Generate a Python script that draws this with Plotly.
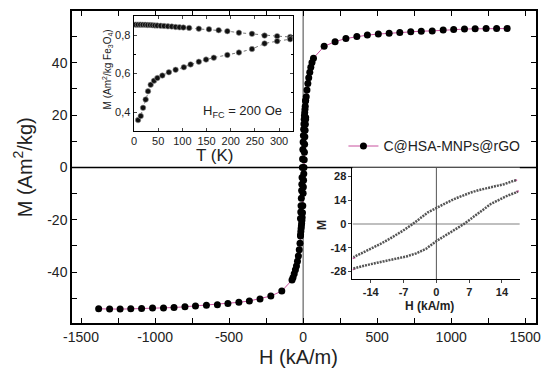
import plotly.graph_objects as go

# ---------------- main M(H) data ----------------
neg_H = [-1381, -1307, -1236, -1164, -1091, -1017, -943, -872, -798, -727, -653, -579, -508, -434, -363, -291, -218, -144]
neg_M = [-54.0, -54.1, -54.1, -54.0, -53.9, -53.7, -53.7, -53.5, -53.2, -52.9, -52.6, -52.4, -52.0, -51.5, -51.0, -50.2, -49.1, -47.2]
ext_neg_H = [-75, -68, -60, -52, -45, -38, -32, -26, -21]
ext_neg_M = [-43.0, -42.0, -40.6, -39.1, -37.6, -35.8, -33.8, -31.4, -29.0]
ext_pos_H = [21, 26, 32, 38, 45, 52, 60, 70]
ext_pos_M = [27.0, 29.5, 32.0, 34.2, 36.3, 38.2, 40.0, 41.7]
pos_H = [142, 216, 289, 363, 434, 508, 581, 653, 727, 798, 872, 946, 1017, 1090, 1162, 1236, 1307, 1378]
pos_M = [46.2, 48.0, 49.2, 50.0, 50.5, 50.9, 51.2, 51.5, 51.8, 52.0, 52.1, 52.4, 52.6, 52.8, 52.9, 53.0, 53.0, 53.0]

# ---------------- low-field loop (inset, kA/m) ----------------
up_H = [17.0, 16.5, 14.4, 12.5, 10.9, 9.0, 7.3, 5.5, 3.8, 2.0, 0.1, -1.8, -3.5, -5.0, -7.1, -8.5, -10.0, -12.0, -13.9, -15.8, -17.7]
up_M = [25.6, 25.3, 23.3, 22.2, 21.0, 19.8, 18.4, 16.6, 14.6, 12.2, 9.7, 6.8, 3.2, 0.0, -3.9, -6.4, -8.8, -11.8, -14.6, -17.0, -19.5]
lo_H = [-17.7, -17.1, -15.3, -13.5, -11.8, -10.0, -8.2, -6.4, -4.3, -2.2, 0.1, 1.6, 3.1, 4.5, 5.9, 7.4, 8.8, 10.2, 11.6, 13.4, 15.1, 16.9, 17.4]
lo_M = [-26.2, -25.7, -24.5, -23.3, -22.4, -21.4, -20.3, -19.1, -17.3, -14.6, -9.9, -7.5, -4.9, -2.4, 0.0, 2.9, 5.8, 8.8, 11.7, 14.2, 16.5, 18.4, 19.0]
pink_H = [-17.9, -17.2, None, -17.9, -17.2, None, 16.6, 17.8, None, 17.0, 17.8]
pink_M = [-20.3, -19.6, None, -27.0, -26.0, None, 25.4, 26.0, None, 18.8, 19.6]

# ---------------- ZFC / FC inset ----------------
fc_T = [3, 8, 13, 18, 23, 28, 33, 38, 43, 48, 55, 62, 70, 78, 86, 94, 102, 114, 134, 155, 175, 193, 217, 244, 270, 296, 323]
fc_M = [0.855, 0.855, 0.855, 0.854, 0.854, 0.853, 0.853, 0.852, 0.851, 0.850, 0.849, 0.848, 0.846, 0.845, 0.843, 0.841, 0.840,
        0.838, 0.834, 0.831, 0.826, 0.821, 0.813, 0.807, 0.798, 0.795, 0.791]
zfc_T = [8.3, 13.8, 18.6, 24, 28.9, 34.4, 41.3, 48.2, 58.5, 72, 86, 103, 117, 134, 149, 165, 193, 217, 244, 270, 296, 323]
zfc_M = [0.358, 0.379, 0.422, 0.465, 0.508, 0.542, 0.563, 0.577, 0.590, 0.607, 0.620, 0.633, 0.648, 0.662, 0.673, 0.683,
         0.697, 0.710, 0.728, 0.757, 0.769, 0.779]

main_x_ticks = [-1500, -1000, -500, 0, 500, 1000, 1500]
main_x_text = ["-1500", "-1000", "-500", "0", "500", "1000", "1500"]
main_y_ticks = [-40, -20, 0, 20, 40]
main_y_text = ["-40", "-20", "0", "20", "40"]
ins1_x_ticks = [0, 50, 100, 150, 200, 250, 300]
ins1_y_ticks = [0.4, 0.6, 0.8]
ins1_y_text = ["0,4", "0,6", "0,8"]
ins2_ticks_H = [-14, -7, 0, 7, 14]
ins2_text_H = ["-14", "-7", "0", "7", "14"]
ins2_ticks_M = [-28, -14, 0, 14, 28]
ins2_text_M = ["-28", "-14", "0", "14", "28"]

FONT = "Liberation Sans, Arial, sans-serif"
PINK = "#c8509e"

fig = go.Figure()

# main series (with legend)
main_H = neg_H + ext_neg_H + lo_H + ext_pos_H + pos_H
main_M = neg_M + ext_neg_M + lo_M + ext_pos_M + pos_M
fig.add_trace(go.Scatter(x=main_H, y=main_M, mode="lines+markers", name="C@HSA-MNPs@rGO",
                         line=dict(color=PINK, width=1),
                         marker=dict(color="black", size=7, line=dict(width=0)),
                         xaxis="x", yaxis="y"))
fig.add_trace(go.Scatter(x=up_H, y=up_M, mode="markers", showlegend=False,
                         marker=dict(color="black", size=7, line=dict(width=0)),
                         xaxis="x", yaxis="y"))

# inset 1 : ZFC / FC
for T, M in ((fc_T, fc_M), (zfc_T, zfc_M)):
    fig.add_trace(go.Scatter(x=T, y=M, mode="lines+markers", showlegend=False,
                             line=dict(color="#777", width=1, dash="dot"),
                             marker=dict(color="#111", size=5.5, line=dict(color="#999", width=0.6)),
                             xaxis="x2", yaxis="y2"))

# inset 2 : low field loop
fig.add_trace(go.Scatter(x=pink_H, y=pink_M, mode="lines", showlegend=False,
                         line=dict(color=PINK, width=1.5, dash="dot"), xaxis="x3", yaxis="y3"))
for H, M in ((up_H, up_M), (lo_H, lo_M)):
    fig.add_trace(go.Scatter(x=H, y=M, mode="lines", showlegend=False,
                             line=dict(color="#555", width=2.5, dash="2px,1px"),
                             xaxis="x3", yaxis="y3"))

tick_font = dict(family=FONT, size=14, color="#222")
fig.update_layout(
    width=550, height=378,
    margin=dict(l=72, r=11, t=9, b=55),
    paper_bgcolor="white", plot_bgcolor="white",
    font=dict(family=FONT, color="#222"),
    showlegend=True,
    legend=dict(x=0.585, y=0.566, xanchor="left", yanchor="middle", bgcolor="rgba(0,0,0,0)",
                font=dict(family=FONT, size=14, color="#222"), itemwidth=30),
    xaxis=dict(range=[-1561, 1573], tickvals=main_x_ticks, ticktext=main_x_text, ticks="inside", ticklen=5,
               showline=True, linecolor="black", linewidth=1.5, mirror="ticks",
               tickcolor="black", showgrid=False, zeroline=False, tickfont=tick_font,
               minor=dict(dtick=250, tick0=0, ticks="inside", ticklen=5, tickcolor="black")),
    yaxis=dict(range=[-59.4, 59.7], tickvals=main_y_ticks, ticktext=main_y_text, ticks="inside", ticklen=5,
               showline=True, linecolor="black", linewidth=1.5, mirror="ticks",
               tickcolor="black", showgrid=False, zeroline=False, tickfont=tick_font,
               minor=dict(dtick=10, tick0=0, ticks="inside", ticklen=5, tickcolor="black")),
    xaxis2=dict(domain=[0.1327, 0.4754], anchor="y2", range=[-1, 328], tickvals=ins1_x_ticks,
                ticks="inside", ticklen=3, showline=True, linecolor="black", linewidth=1,
                mirror="ticks", showgrid=False, zeroline=False,
                tickfont=dict(family=FONT, size=11, color="#222")),
    yaxis2=dict(domain=[0.6146, 0.984], anchor="x2", range=[0.30, 0.90], tickvals=ins1_y_ticks,
                ticktext=ins1_y_text, ticks="inside", ticklen=3, showline=True, linecolor="black",
                linewidth=1, mirror="ticks", showgrid=False, zeroline=False,
                tickfont=dict(family=FONT, size=11, color="#222"),
                minor=dict(dtick=0.1, tick0=0, ticks="inside", ticklen=2, tickcolor="black")),
    xaxis3=dict(domain=[0.6045, 0.9651], anchor="y3", range=[-17.9, 17.8], tickvals=ins2_ticks_H,
                ticktext=ins2_text_H, ticks="outside", ticklen=3, showline=True, linecolor="black", linewidth=1,
                showgrid=False, zeroline=False,
                tickfont=dict(family=FONT, size=11, color="#222", weight="bold")),
    yaxis3=dict(domain=[0.1401, 0.4978], anchor="x3", range=[-32.5, 33], tickvals=ins2_ticks_M,
                ticktext=ins2_text_M, ticks="outside", ticklen=3, showline=True, linecolor="black", linewidth=1,
                showgrid=False, zeroline=False,
                tickfont=dict(family=FONT, size=11, color="#222", weight="bold")),
)

# zero lines
fig.add_shape(type="line", xref="x", yref="y", x0=-1561, x1=1573, y0=0, y1=0,
              line=dict(color="black", width=1.5), layer="below")
fig.add_shape(type="line", xref="x", yref="y", x0=0, x1=0, y0=-59.4, y1=59.7,
              line=dict(color="#444", width=1), layer="below")
fig.add_shape(type="line", xref="x3", yref="y3", x0=-17.9, x1=17.8, y0=0, y1=0,
              line=dict(color="#aaa", width=1.5), layer="below")
fig.add_shape(type="line", xref="x3", yref="y3", x0=0, x1=0, y0=-32.5, y1=33,
              line=dict(color="#555", width=1), layer="below")

def px_x(p):
    return (p - 72) / 467

def px_y(p):
    return (323 - p) / 314

ann = [
    dict(text="M (Am<sup>2</sup>/kg)", x=px_x(22), y=px_y(166), textangle=-90, size=20, bold=False),
    dict(text="H (kA/m)", x=px_x(300), y=px_y(357), textangle=0, size=20, bold=False),
    dict(text="T (K)", x=px_x(215), y=px_y(154), textangle=0, size=17, bold=False),
    dict(text="M (Am<sup>2</sup>/kg Fe<sub>3</sub>O<sub>4</sub>)", x=px_x(108), y=px_y(68), textangle=-90, size=10, bold=False),
    dict(text="H<sub>FC</sub> = 200 Oe", x=px_x(244), y=px_y(110), textangle=0, size=13, bold=False),
    dict(text="M", x=px_x(323), y=px_y(224), textangle=-90, size=12, bold=True),
    dict(text="H (kA/m)", x=px_x(432), y=px_y(306), textangle=0, size=12, bold=True),
]
for a in ann:
    fig.add_annotation(text=a["text"], x=a["x"], y=a["y"], xref="paper", yref="paper",
                       xanchor="center", yanchor="middle", showarrow=False, textangle=a["textangle"],
                       font=dict(family=FONT, size=a["size"], color="#222",
                                 weight="bold" if a["bold"] else "normal"))

fig.write_html("out.html", config={"displayModeBar": False})

# remove the default page margin so the figure sits at the window's top-left corner
with open("out.html", "r", encoding="utf-8") as f:
    html = f.read()
html = html.replace("<head>", "<head><style>html,body{margin:0;padding:0;overflow:hidden;}</style>", 1)
with open("out.html", "w", encoding="utf-8") as f:
    f.write(html)
